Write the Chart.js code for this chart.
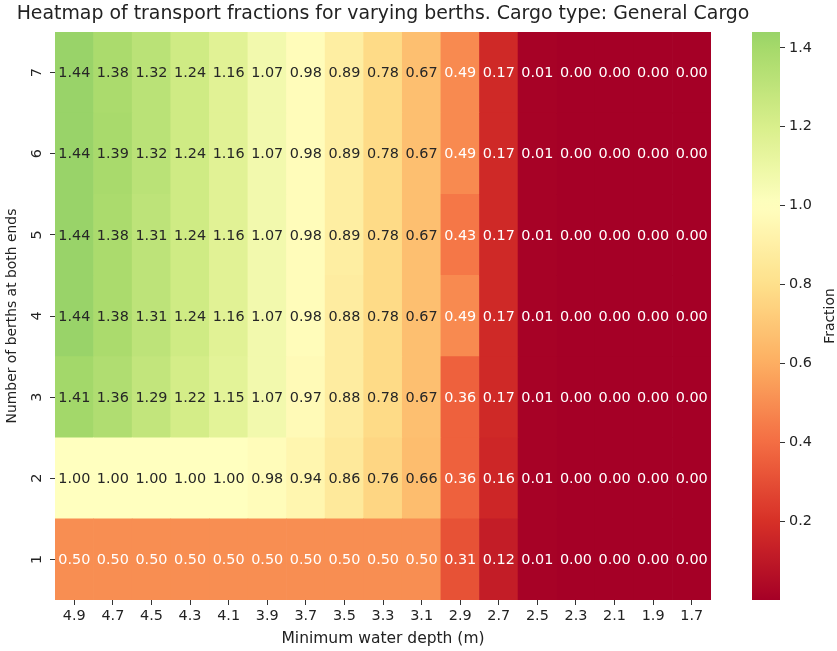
<!DOCTYPE html>
<html>
<head>
<meta charset="utf-8">
<script src="https://cdn.jsdelivr.net/npm/chart.js@4/dist/chart.umd.min.js"></script>
<style>
  html, body { margin: 0; padding: 0; background: #fff; }
  #wrap { position: relative; width: 837px; height: 651px; overflow: hidden; }
  #main { position: absolute; left: 0; top: 0; }
  #cbar { position: absolute; left: 720px; top: 0; }
</style>
</head>
<body>
<div id="wrap">
  <canvas id="main" width="766" height="651"></canvas>
  <canvas id="cbar" width="117" height="651"></canvas>
</div>
<script>
// Minimum water depth (m), columns left to right
const depthLabels = ['4.9', '4.7', '4.5', '4.3', '4.1', '3.9', '3.7', '3.5', '3.3',
                     '3.1', '2.9', '2.7', '2.5', '2.3', '2.1', '1.9', '1.7'];
// Number of berths at both ends
const berthCounts = [1, 2, 3, 4, 5, 6, 7];

// Transport fractions per berth count, one value per depth
const berths1 = [0.50, 0.50, 0.50, 0.50, 0.50, 0.50, 0.50, 0.50, 0.50, 0.50, 0.31, 0.12, 0.01, 0.00, 0.00, 0.00, 0.00];
const berths2 = [1.00, 1.00, 1.00, 1.00, 1.00, 0.98, 0.94, 0.86, 0.76, 0.66, 0.36, 0.16, 0.01, 0.00, 0.00, 0.00, 0.00];
const berths3 = [1.41, 1.36, 1.29, 1.22, 1.15, 1.07, 0.97, 0.88, 0.78, 0.67, 0.36, 0.17, 0.01, 0.00, 0.00, 0.00, 0.00];
const berths4 = [1.44, 1.38, 1.31, 1.24, 1.16, 1.07, 0.98, 0.88, 0.78, 0.67, 0.49, 0.17, 0.01, 0.00, 0.00, 0.00, 0.00];
const berths5 = [1.44, 1.38, 1.31, 1.24, 1.16, 1.07, 0.98, 0.89, 0.78, 0.67, 0.43, 0.17, 0.01, 0.00, 0.00, 0.00, 0.00];
const berths6 = [1.44, 1.39, 1.32, 1.24, 1.16, 1.07, 0.98, 0.89, 0.78, 0.67, 0.49, 0.17, 0.01, 0.00, 0.00, 0.00, 0.00];
const berths7 = [1.44, 1.38, 1.32, 1.24, 1.16, 1.07, 0.98, 0.89, 0.78, 0.67, 0.49, 0.17, 0.01, 0.00, 0.00, 0.00, 0.00];

// Colour bar tick values
const colorbarTicks = [0.2, 0.4, 0.6, 0.8, 1.0, 1.2, 1.4];

const rows = [berths1, berths2, berths3, berths4, berths5, berths6, berths7];
const allValues = rows.flat();
const vmin = Math.min(...allValues);
const vmax = Math.max(...allValues);
const center = 1.0;
const vrange = Math.max(vmax - center, center - vmin);

const TICK_FONT = 14.4;
const FONT = '"DejaVu Sans", sans-serif';
const TITLE = 'Heatmap of transport fractions for varying berths. Cargo type: General Cargo';

// RdYlGn anchor colours (diverging red - yellow - green)
const RDYLGN = [
  [0.6470588235, 0.0, 0.1490196078],
  [0.8431372549, 0.1882352941, 0.1529411765],
  [0.9568627451, 0.4274509804, 0.2627450980],
  [0.9921568627, 0.6823529412, 0.3803921569],
  [0.9960784314, 0.8784313725, 0.5450980392],
  [1.0, 1.0, 0.7490196078],
  [0.8509803922, 0.9372549020, 0.5450980392],
  [0.6509803922, 0.8509803922, 0.4156862745],
  [0.4, 0.7411764706, 0.3882352941],
  [0.1019607843, 0.5960784314, 0.3137254902],
  [0.0, 0.4078431373, 0.2156862745]
];

function cmapRGB(t) {
  t = Math.min(1, Math.max(0, t));
  const pos = t * (RDYLGN.length - 1);
  const i = Math.min(RDYLGN.length - 2, Math.floor(pos));
  const f = pos - i;
  const a = RDYLGN[i], b = RDYLGN[i + 1];
  return [0, 1, 2].map(k => a[k] + (b[k] - a[k]) * f);
}

// Colour map centred on 1.0
function valueRGB(v) {
  return cmapRGB((v - (center - vrange)) / (2 * vrange));
}

function toCss(rgb) {
  return 'rgb(' + rgb.map(c => Math.round(c * 255)).join(',') + ')';
}

function luminance(rgb) {
  const lin = rgb.map(c => c <= 0.03928 ? c / 12.92 : Math.pow((c + 0.055) / 1.055, 2.4));
  return 0.2126 * lin[0] + 0.7152 * lin[1] + 0.0722 * lin[2];
}

function textColor(v) {
  return luminance(valueRGB(v)) > 0.408 ? '#262626' : '#ffffff';
}

Chart.defaults.font.family = FONT;
Chart.defaults.font.size = TICK_FONT;
Chart.defaults.color = '#222';

// One floating-bar dataset per berth row; every bar spans its row band
const datasets = rows.map((vals, r) => {
  const b = berthCounts[r];
  return {
    label: String(b),
    values: vals,
    data: vals.map(() => [b - 0.5, b + 0.5]),
    backgroundColor: vals.map(v => toCss(valueRGB(v))),
    borderWidth: 0,
    borderSkipped: false,
    grouped: false,
    barPercentage: 1.0,
    categoryPercentage: 1.0
  };
});

// Value annotation in the middle of every cell
const cellLabels = {
  id: 'cellLabels',
  afterDatasetsDraw(chart) {
    const ctx = chart.ctx;
    ctx.save();
    ctx.font = TICK_FONT + 'px ' + FONT;
    ctx.textAlign = 'center';
    ctx.textBaseline = 'middle';
    chart.data.datasets.forEach((ds, di) => {
      const meta = chart.getDatasetMeta(di);
      meta.data.forEach((bar, i) => {
        const v = ds.values[i];
        const p = bar.getProps(['x', 'y', 'base'], true);
        ctx.fillStyle = textColor(v);
        ctx.fillText(v.toFixed(2), p.x, (p.y + p.base) / 2 + 1);
      });
    });
    ctx.restore();
  }
};

// Title centred over the heatmap area
const heatmapTitle = {
  id: 'heatmapTitle',
  afterDraw(chart) {
    const ctx = chart.ctx;
    const area = chart.chartArea;
    ctx.save();
    ctx.font = '18.9px ' + FONT;
    ctx.fillStyle = '#222';
    ctx.textAlign = 'center';
    ctx.textBaseline = 'middle';
    ctx.fillText(TITLE, (area.left + area.right) / 2, 14);
    ctx.restore();
  }
};

new Chart(document.getElementById('main'), {
  type: 'bar',
  data: { labels: depthLabels, datasets: datasets },
  options: {
    responsive: false,
    animation: false,
    layout: { padding: { left: 0, right: 55, top: 32, bottom: 0 } },
    plugins: {
      legend: { display: false },
      tooltip: { enabled: false },
      title: { display: false }
    },
    scales: {
      x: {
        type: 'category',
        offset: true,
        border: { display: false },
        grid: { drawOnChartArea: false, offset: false, tickLength: 5, tickColor: '#333', tickWidth: 1 },
        ticks: { padding: 3, maxRotation: 0, minRotation: 0, color: '#222' },
        title: { display: true, text: 'Minimum water depth (m)', color: '#222', font: { size: 15.5 }, padding: { top: 2, bottom: 3 } },
        afterFit(scale) { scale.height = 51; }
      },
      y: {
        type: 'linear',
        min: 0.5,
        max: 7.5,
        border: { display: false },
        grid: { drawOnChartArea: false, tickLength: 5, tickColor: '#333', tickWidth: 1 },
        afterBuildTicks(scale) { scale.ticks = berthCounts.map(v => ({ value: v })); },
        ticks: {
          minRotation: 90, maxRotation: 90, crossAlign: 'center', padding: 8, color: '#222',
          callback: v => String(v)
        },
        title: { display: true, text: 'Number of berths at both ends', color: '#222', font: { size: 13.9 }, padding: { top: 4, bottom: 2 } },
        afterFit(scale) { scale.width = 55; }
      }
    }
  },
  plugins: [cellLabels, heatmapTitle]
});

// Colour bar axis title
const fractionLabel = {
  id: 'fractionLabel',
  afterDraw(chart) {
    const ctx = chart.ctx;
    const area = chart.chartArea;
    ctx.save();
    ctx.font = '13.9px ' + FONT;
    ctx.fillStyle = '#222';
    ctx.textAlign = 'center';
    ctx.textBaseline = 'middle';
    ctx.translate(110, (area.top + area.bottom) / 2);
    ctx.rotate(-Math.PI / 2);
    ctx.fillText('Fraction', 0, 0);
    ctx.restore();
  }
};

// Colour bar: a single floating bar from vmin to vmax filled with the colour map
new Chart(document.getElementById('cbar'), {
  type: 'bar',
  data: {
    labels: ['Fraction'],
    datasets: [{
      data: [[vmin, vmax]],
      backgroundColor(ctx) {
        const chart = ctx.chart;
        if (!chart.chartArea) return 'rgba(0,0,0,0)';
        const ys = chart.scales.y;
        const y0 = ys.getPixelForValue(vmin);
        const y1 = ys.getPixelForValue(vmax);
        const g = chart.ctx.createLinearGradient(0, y0, 0, y1);
        const n = 64;
        for (let i = 0; i <= n; i++) {
          const v = vmin + (vmax - vmin) * i / n;
          g.addColorStop(i / n, toCss(valueRGB(v)));
        }
        return g;
      },
      borderWidth: 0,
      borderSkipped: false,
      barPercentage: 1.0,
      categoryPercentage: 1.0
    }]
  },
  options: {
    responsive: false,
    animation: false,
    layout: { padding: { left: 32, right: 0, top: 32, bottom: 51 } },
    plugins: { legend: { display: false }, tooltip: { enabled: false } },
    scales: {
      x: { display: false, offset: true },
      y: {
        type: 'linear',
        position: 'right',
        min: vmin,
        max: vmax,
        border: { display: false },
        grid: { drawOnChartArea: false, tickLength: 5, tickColor: '#333', tickWidth: 1 },
        afterBuildTicks(scale) { scale.ticks = colorbarTicks.map(v => ({ value: v })); },
        ticks: { padding: 4, color: '#222', callback: v => Number(v).toFixed(1) },
        afterFit(scale) { scale.width = 57; }
      }
    }
  },
  plugins: [fractionLabel]
});
</script>
</body>
</html>
